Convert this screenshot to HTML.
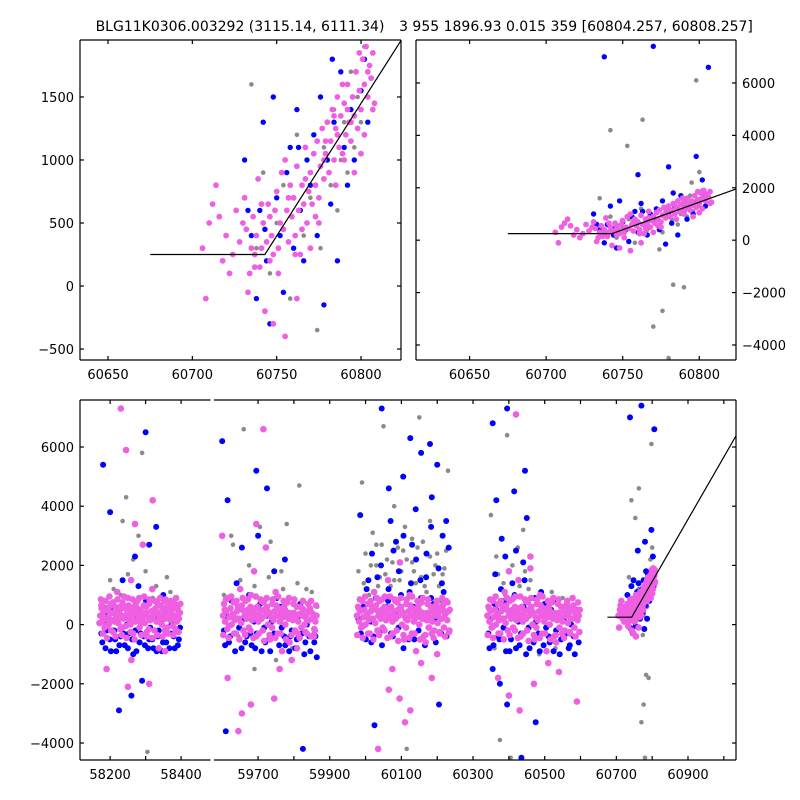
<!DOCTYPE html>
<html><head><meta charset="utf-8">
<style>
html,body{margin:0;padding:0;background:#fff;width:800px;height:800px;overflow:hidden;}
svg{display:block;}
text{font-family:"DejaVu Sans","Liberation Sans",sans-serif;font-size:13px;fill:#000;}
.ttl{font-size:14px;}
</style></head>
<body>
<svg id="chart" width="800" height="800" viewBox="0 0 800 800">
<text class="ttl" x="240" y="31" text-anchor="middle">BLG11K0306.003292 (3115.14, 6111.34)</text>
<text class="ttl" x="576" y="31" text-anchor="middle">3 955 1896.93 0.015 359 [60804.257, 60808.257]</text>
</svg>
<script>
// ---- data: model line ----
const modelT = [60675, 60743, 61040];
const modelV = [250, 250, 6500];
// ---- data: zoomed final season (shared by top panels and last bottom season) ----
const zoomPink = [[60706,300],[60708,-100],[60710,500],[60712,650],[60714,800],[60716,550],[60718,200],[60720,400],[60722,100],[60724,250],[60726,600],[60728,350],[60730,500],[60731,700],[60733,-50],[60734,100],[60735,300],[60736,550],[60737,250],[60738,400],[60739,850],[60740,150],[60741,300],[60742,500],[60743,-200],[60744,350],[60745,650],[60746,200],[60747,400],[60748,250],[60749,600],[60750,750],[60751,300],[60752,500],[60753,900],[60754,450],[60755,-400],[60756,600],[60757,350],[60758,800],[60759,550],[60760,700],[60761,400],[60762,950],[60763,600],[60764,250],[60765,800],[60766,650],[60767,1100],[60768,500],[60769,750],[60770,900],[60771,650],[60772,1050],[60773,800],[60774,1150],[60775,700],[60776,950],[60777,1250],[60778,850],[60779,1050],[60780,1300],[60781,900],[60782,1150],[60783,1400],[60784,1000],[60785,1250],[60786,1500],[60787,1100],[60788,1350],[60789,1050],[60790,1450],[60791,1200],[60792,1600],[60793,1300],[60794,1150],[60795,1500],[60796,1350],[60797,1700],[60798,1250],[60799,1550],[60800,1400],[60801,1800],[60802,1600],[60803,1900],[60804,1500],[60805,1750],[60806,1650],[60807,1850],[60808,1450],[60755,1000],[60762,-100],[60770,300],[60748,-300],[60790,1000],[60796,900],[60802,1200],[60785,800],[60775,500],[60765,450],[60732,450],[60737,150],[60741,650],[60746,550],[60751,100],[60757,700],[60761,250],[60767,850],[60773,550],[60779,1150],[60784,1350],[60789,1600],[60794,1300],[60799,1850],[60804,1700],[60807,1400],[60800,1050],[60792,1400],[60786,1200],[60778,1000]];
const zoomBlue = [[60731,1000],[60733,600],[60735,400],[60738,-100],[60740,600],[60742,1300],[60744,200],[60746,-300],[60748,1500],[60750,700],[60752,400],[60754,-50],[60756,900],[60758,1100],[60760,300],[60762,1400],[60764,600],[60766,200],[60768,1000],[60770,800],[60772,1200],[60774,400],[60776,1500],[60778,-150],[60780,1000],[60782,650],[60784,1300],[60786,200],[60788,1700],[60790,1100],[60792,800],[60794,1400],[60796,1000],[60798,1250],[60800,1550],[60802,1800],[60804,1300],[60806,1650],[60783,1800],[60763,1100],[60743,450],[60738,7000],[60770,7400],[60806,6600],[60798,3200],[60780,2800],[60760,2500],[60802,2300]];
const zoomGray = [[60735,1600],[60738,300],[60742,900],[60746,100],[60750,500],[60754,800],[60758,-100],[60762,1200],[60766,400],[60770,700],[60774,-350],[60778,1100],[60782,800],[60784,1400],[60786,600],[60790,1300],[60792,900],[60794,1700],[60796,1100],[60798,1500],[60800,1300],[60802,1900],[60804,1700],[60788,1000],[60776,300],[60742,4200],[60753,3600],[60763,4600],[60783,-1700],[60790,-1800],[60780,-4500],[60776,-2700],[60798,6100],[60770,-3300],[60800,2600],[60795,2200]];
// ---- data: earlier seasons (bottom panel) ----
const basePink = [
[58172,300],[58175,650],[58178,100],[58181,450],[58184,-100],[58187,800],[58190,200],[58193,500],[58196,0],[58199,350],[58202,700],[58205,150],[58208,-250],[58211,400],[58214,600],[58217,250],[58220,1100],[58223,50],[58226,450],[58229,-150],[58232,300],[58235,750],[58238,200],[58241,550],[58244,-50],[58247,350],[58250,900],[58253,150],[58256,450],[58259,1500],[58262,250],[58265,-300],[58268,600],[58271,100],[58274,400],[58277,800],[58280,200],[58283,-100],[58286,500],[58289,300],[58292,2700],[58295,650],[58298,50],[58301,400],[58304,-400],[58307,250],[58310,700],[58313,150],[58316,450],[58319,1200],[58322,300],[58325,-200],[58328,550],[58331,100],[58334,400],[58337,-800],[58340,250],[58343,650],[58346,0],[58349,350],[58352,800],[58355,200],[58358,500],[58361,-100],[58364,300],[58367,600],[58370,150],[58373,450],[58376,-50],[58379,250],[58382,700],[58385,300],[58388,100],[58391,500],[58394,200],[58397,400],
[58176,550],[58183,250],[58189,-50],[58197,600],[58204,400],[58212,100],[58219,550],[58227,250],[58234,-100],[58242,300],[58249,600],[58257,0],[58264,450],[58272,700],[58279,350],[58287,50],[58294,250],[58302,600],[58309,-150],[58317,200],[58324,500],[58332,750],[58339,100],[58347,550],[58354,-200],[58362,650],[58369,400],[58377,550],[58384,-150],[58392,650],
[58230,7300],[58245,5900],[58270,3400],[58320,4200],[58250,-2100],[58310,-2000],[58190,-1500],[58260,-1200],[58355,-900],
[59602,300],[59605,700],[59608,100],[59611,450],[59614,-150],[59617,900],[59620,250],[59623,550],[59626,0],[59629,350],[59632,750],[59635,150],[59638,-300],[59641,450],[59644,600],[59647,200],[59650,1200],[59653,50],[59656,500],[59659,-200],[59662,300],[59665,800],[59668,200],[59671,500],[59674,-100],[59677,350],[59680,1000],[59683,150],[59686,400],[59689,1800],[59692,250],[59695,-400],[59698,600],[59701,100],[59704,450],[59707,850],[59710,200],[59713,-200],[59716,500],[59719,300],[59722,2600],[59725,600],[59728,0],[59731,400],[59734,-500],[59737,250],[59740,700],[59743,150],[59746,450],[59749,1100],[59752,300],[59755,-300],[59758,550],[59761,100],[59764,400],[59767,-900],[59770,250],[59773,600],[59776,0],[59779,350],[59782,750],[59785,200],[59788,-600],[59791,300],[59794,-1200],[59797,150],[59800,400],[59803,-200],[59806,250],[59809,-800],[59812,100],[59815,350],[59818,600],[59821,-100],[59824,300],[59827,500],[59830,0],[59833,250],[59836,-300],[59839,400],[59842,150],[59845,550],[59848,-400],[59851,200],[59854,350],[59857,-150],[59860,100],[59863,300],
[59607,500],[59619,-50],[59631,300],[59643,200],[59655,650],[59667,450],[59679,-200],[59691,550],[59703,350],[59715,750],[59727,450],[59739,-100],[59751,650],[59763,200],[59775,500],[59787,400],[59799,700],[59811,-300],[59823,550],[59835,200],[59847,450],[59859,-200],
[59615,-1800],[59655,-3000],[59715,6600],[59745,-2500],[59695,3400],[59645,-3600],[59680,-2700],[59600,3000],[59760,-1500],
[59976,300],[59979,600],[59982,100],[59985,450],[59988,-100],[59991,800],[59994,250],[59997,500],[60000,0],[60003,350],[60006,700],[60009,150],[60012,-300],[60015,450],[60018,600],[60021,200],[60024,1100],[60027,50],[60030,500],[60033,-200],[60036,300],[60039,800],[60042,200],[60045,500],[60048,-100],[60051,350],[60054,950],[60057,150],[60060,400],[60063,1500],[60066,250],[60069,-400],[60072,600],[60075,100],[60078,450],[60081,850],[60084,200],[60087,-200],[60090,500],[60093,300],[60096,2100],[60099,600],[60102,0],[60105,400],[60108,-500],[60111,250],[60114,700],[60117,150],[60120,450],[60123,1000],[60126,300],[60129,-300],[60132,550],[60135,100],[60138,400],[60141,-900],[60144,250],[60147,600],[60150,0],[60153,350],[60156,750],[60159,200],[60162,-400],[60165,300],[60168,-600],[60171,150],[60174,400],[60177,-100],[60180,250],[60183,600],[60186,100],[60189,450],[60192,-200],[60195,300],[60198,700],[60201,50],[60204,400],[60207,-300],[60210,550],[60213,200],[60216,650],[60219,-100],[60222,350],[60225,800],[60228,150],[60231,450],[60234,-200],
[59981,550],[59993,-50],[60005,300],[60017,200],[60029,650],[60041,450],[60053,-200],[60065,550],[60077,350],[60089,750],[60101,450],[60113,-100],[60125,650],[60137,200],[60149,500],[60161,400],[60173,700],[60185,-300],[60197,550],[60209,200],[60221,450],[60233,-250],
[60065,-2200],[60095,-2500],[60125,-2900],[60185,-1800],[60035,-4200],[60075,-1500],[60155,-1300],[60110,-3300],[60200,-1000],
[60340,300],[60343,600],[60346,100],[60349,450],[60352,-100],[60355,800],[60358,250],[60361,500],[60364,0],[60367,350],[60370,700],[60373,150],[60376,-300],[60379,450],[60382,600],[60385,200],[60388,1100],[60391,50],[60394,500],[60397,-200],[60400,300],[60403,800],[60406,200],[60409,500],[60412,-100],[60415,350],[60418,950],[60421,150],[60424,400],[60427,1500],[60430,250],[60433,-400],[60436,600],[60439,100],[60442,450],[60445,850],[60448,200],[60451,-200],[60454,500],[60457,300],[60460,1900],[60463,600],[60466,0],[60469,400],[60472,-500],[60475,250],[60478,700],[60481,150],[60484,450],[60487,1000],[60490,300],[60493,-300],[60496,550],[60499,100],[60502,400],[60505,-900],[60508,250],[60511,600],[60514,0],[60517,350],[60520,750],[60523,200],[60526,-400],[60529,300],[60532,-600],[60535,150],[60538,400],[60541,-100],[60544,250],[60547,600],[60550,100],[60553,450],[60556,-200],[60559,300],[60562,700],[60565,50],[60568,400],[60571,-300],[60574,550],[60577,200],[60580,650],[60583,-100],[60586,350],[60589,500],[60592,150],[60595,300],
[60345,550],[60357,-50],[60369,300],[60381,200],[60393,650],[60405,450],[60417,-200],[60429,550],[60441,350],[60453,750],[60465,450],[60477,-100],[60489,650],[60501,200],[60513,500],[60525,400],[60537,700],[60549,-300],[60561,550],[60573,200],[60585,450],[60597,-250],
[60370,-1800],[60400,-2400],[60430,-2900],[60470,-2000],[60510,-1300],[60540,-1600],[60590,-2600],[60420,7100],[60460,2300],[60400,1800]];
const extraPink = [
[58170,50],[58174,850],[58179,-300],[58185,500],[58191,-450],[58198,950],[58203,-200],[58209,750],[58215,-400],[58221,850],[58228,600],[58233,-350],[58239,950],[58246,-450],[58252,650],[58258,-250],[58263,850],[58269,-500],[58276,550],[58282,900],[58288,-350],[58296,950],[58303,-250],[58311,850],[58318,-450],[58326,800],[58333,-350],[58341,900],[58348,-400],[58356,850],[58363,-300],[58371,800],[58378,-350],[58386,900],[58393,-250],[58398,700],
[59603,-350],[59610,850],[59618,-450],[59625,950],[59633,-300],[59640,800],[59648,-500],[59657,900],[59664,-350],[59672,850],[59679,600],[59687,-450],[59694,950],[59702,-300],[59709,800],[59717,-550],[59724,900],[59732,-350],[59741,850],[59748,-450],[59756,950],[59763,-300],[59771,800],[59778,-500],[59786,900],[59793,-350],[59801,850],[59808,600],[59816,-450],[59825,800],[59832,-250],[59840,700],[59848,800],[59856,-400],[59862,650],
[59977,-350],[59984,850],[59992,-450],[59999,950],[60007,-300],[60014,800],[60022,-500],[60031,900],[60038,-350],[60046,850],[60053,600],[60061,-450],[60068,950],[60076,-300],[60083,800],[60091,-550],[60098,900],[60106,-350],[60115,850],[60122,-450],[60130,950],[60137,-300],[60145,800],[60152,-500],[60160,900],[60167,-350],[60175,850],[60182,600],[60190,-450],[60199,800],[60206,-250],[60214,900],[60222,-400],[60229,750],[60235,500],
[60341,-350],[60348,850],[60356,-450],[60363,950],[60371,-300],[60378,800],[60386,-500],[60395,900],[60402,-350],[60410,850],[60417,600],[60425,-450],[60432,950],[60440,-300],[60447,800],[60455,-550],[60462,900],[60470,-350],[60479,850],[60486,-450],[60494,950],[60501,-300],[60509,800],[60516,-500],[60524,900],[60531,-350],[60539,850],[60546,600],[60554,-450],[60563,800],[60570,-250],[60578,900],[60586,-400],[60593,750],[60598,500]];
const baseBlue = [
[58175,-300],[58181,100],[58187,-800],[58193,300],[58199,-500],[58205,600],[58211,-200],[58217,-900],[58223,200],[58229,-400],[58235,1500],[58241,-700],[58247,0],[58253,-300],[58259,400],[58265,-1000],[58271,-200],[58277,200],[58283,-600],[58289,100],[58295,-400],[58301,800],[58307,-800],[58313,-100],[58319,-500],[58325,300],[58331,-900],[58337,-200],[58343,100],[58349,-600],[58355,400],[58361,-300],[58367,-800],[58373,0],[58379,-400],[58385,200],[58391,-700],[58397,-100],
[58180,5400],[58200,3800],[58270,2300],[58300,6500],[58330,3300],[58290,-1900],[58225,-2900],[58260,-2400],[58310,2700],
[58178,-600],[58190,-200],[58202,-900],[58214,-500],[58226,-700],[58238,-300],[58250,-800],[58262,-500],[58274,-900],[58286,-300],[58298,-700],[58310,-500],[58322,-800],[58334,-400],[58346,-900],[58358,-600],[58370,-300],[58382,-800],[58394,-500],[58220,1100],[58280,1300],[58350,1000],
[59605,-200],[59612,300],[59619,-600],[59626,800],[59633,-300],[59640,1400],[59647,-100],[59654,-800],[59661,200],[59668,-400],[59675,1000],[59682,-700],[59689,100],[59696,-300],[59703,500],[59710,-900],[59717,-100],[59724,300],[59731,-500],[59738,100],[59745,-300],[59752,900],[59759,-700],[59766,-100],[59773,-400],[59780,400],[59787,-900],[59794,-200],[59801,200],[59808,-500],[59815,300],[59822,-300],[59829,-1000],[59836,0],[59843,-400],[59850,200],[59857,-600],[59864,-1100],
[59600,6200],[59615,4200],[59695,5200],[59725,4600],[59610,-3600],[59825,-4200],[59655,2600],[59775,2200],[59700,3000],[59745,1800],
[59608,-700],[59622,-400],[59636,-900],[59650,600],[59664,-600],[59678,-300],[59692,-800],[59706,700],[59720,-600],[59734,-900],[59748,-400],[59762,600],[59776,-700],[59790,-400],[59804,-800],[59818,700],[59832,-600],[59846,-900],[59860,-400],
[59980,200],[59987,-300],[59994,600],[60001,-500],[60008,1500],[60015,100],[60022,-400],[60029,900],[60036,300],[60043,2000],[60050,-200],[60057,600],[60064,1200],[60071,-300],[60078,2500],[60085,400],[60092,-100],[60099,1000],[60106,3000],[60113,200],[60120,-500],[60127,1400],[60134,600],[60141,2200],[60148,-200],[60155,900],[60162,300],[60169,1600],[60176,-100],[60183,3300],[60190,700],[60197,200],[60204,1900],[60211,-300],[60218,1100],[60225,400],[60232,2600],[60016,-600],[60046,-700],[60076,-400],[60106,-800],[60136,-500],[60166,-700],[60196,-600],[60226,-400],
[60045,7300],[60125,6300],[60155,5800],[60105,5000],[60185,4300],[60225,3500],[60065,4600],[60025,-3400],[60205,-2700],[59985,3700],[60085,2800],[60180,6100],[60140,3900],[60200,5400],
[60003,1200],[60033,1600],[60063,800],[60093,1800],[60123,1100],[60153,1500],[60183,900],[60213,1400],[60018,2400],[60070,3500],[60130,2700],[60170,2400],[60215,3000],
[60343,-300],[60350,200],[60357,-700],[60364,500],[60371,-400],[60378,1200],[60385,-100],[60392,-900],[60399,300],[60406,-500],[60413,900],[60420,-800],[60427,100],[60434,-300],[60441,600],[60448,-1000],[60455,-100],[60462,400],[60469,-600],[60476,100],[60483,-300],[60490,1100],[60497,-700],[60504,-100],[60511,-400],[60518,500],[60525,-900],[60532,-200],[60539,300],[60546,-500],[60553,200],[60560,-300],[60567,-800],[60574,0],[60581,-400],[60588,300],[60595,-600],
[60355,6800],[60395,7300],[60365,4200],[60415,4500],[60445,5200],[60355,-1500],[60375,-2000],[60435,-4500],[60395,-2700],[60475,-3300],[60380,2900],[60420,2500],[60450,3600],[60400,1800],
[60346,-800],[60360,700],[60374,-500],[60388,800],[60402,-900],[60416,1000],[60430,-700],[60444,1500],[60458,-800],[60472,900],[60486,-900],[60500,700],[60514,-600],[60528,800],[60542,-1000],[60556,600],[60570,-700],[60584,-1000],[60362,1700],[60390,2300],[60410,1400],[60440,2100]];
const baseGray = [
[58185,600],[58200,1500],[58215,-200],[58230,1000],[58245,4300],[58255,300],[58265,2200],[58280,-600],[58290,5800],[58300,1800],[58305,-4300],[58320,900],[58340,200],[58360,1600],[58380,-300],[58395,700],[58235,3500],[58280,3000],[58210,1200],[58250,1700],[58330,1300],[58370,1100],
[59605,1000],[59625,3000],[59645,-400],[59660,6600],[59675,2000],[59690,-1500],[59705,3300],[59720,800],[59735,2800],[59750,-1200],[59765,1800],[59780,3400],[59795,-800],[59815,4700],[59835,1200],[59855,-300],[59865,600],[59630,2700],[59650,1500],[59690,1300],[59730,1600],[59770,1200],[59810,1400],[59850,1100],
[59980,1800],[59990,4800],[60000,2400],[60010,1000],[60020,3100],[60030,2700],[60040,1600],[60050,6700],[60060,2200],[60070,1300],[60080,4000],[60090,2600],[60100,1800],[60110,3300],[60120,900],[60130,2100],[60140,1400],[60150,7000],[60160,2800],[60170,1100],[60180,3500],[60190,1700],[60200,2400],[60210,800],[60220,1900],[60230,5200],[60030,2000],[60080,1500],[60130,2900],[60180,2300],[60005,1200],[60055,1700],[60105,2500],[60155,1600],[60205,1300],[60115,-4200],
[59995,1400],[60015,2000],[60035,1300],[60045,2700],[60075,2100],[60095,1500],[60115,2200],[60135,1800],[60145,2600],[60165,1300],[60195,2000],[60215,1700],[60225,2500],
[60350,3700],[60375,-3900],[60405,-4500],[60425,2600],[60445,1800],[60365,2300],[60485,-1000],[60385,1400],[60415,900],[60455,1200],[60500,700],[60530,-800],[60560,500],[60395,6400],[60440,3200],[60360,-800],[60370,1700],[60390,1000],[60410,2000],[60430,1300],[60460,1500],[60480,900],[60520,1100],[60550,900]];

// ---- layout (not data) ----
const NS = 'http://www.w3.org/2000/svg';
const svg = document.getElementById('chart');
function el(tag, attrs, parent){const e=document.createElementNS(NS,tag);for(const k in attrs)e.setAttribute(k,attrs[k]);(parent||svg).appendChild(e);return e;}
function lin(d0,d1,r0,r1){return v=>r0+(v-d0)*(r1-r0)/(d1-d0);}

const panels = [
 {id:'top-left', x0:80,x1:401,y0:40,y1:360, xd:[60633.4,60823.7], yd:[-587,1952], xt:[60650,60700,60750,60800], yt:[-500,0,500,1000,1500], ylab:'left', sets:'zoom'},
 {id:'top-right', x0:416,x1:736,y0:40,y1:360, xd:[60615,60824], yd:[-4573,7641], xt:[60650,60700,60750,60800], yt:[-4000,-2000,0,2000,4000,6000], ylab:'right', sets:'zoom'},
 {id:'bottom-left', x0:80,x1:210.5,y0:400,y1:760, xd:[58115,58483], yd:[-4574,7588], xt:[58200,58300,58400], xl:[58200,58400], yt:[-4000,-2000,0,2000,4000,6000], ylab:'left', sets:'all', noRight:true},
 {id:'bottom-right', x0:214,x1:736,y0:400,y1:760, xd:[59577,61034], yd:[-4574,7588], xt:[59700,59800,59900,60000,60100,60200,60300,60400,60500,60600,60700,60800,60900,61000], xl:[59700,59900,60100,60300,60500,60700,60900], yt:[-4000,-2000,0,2000,4000,6000], ylab:'none', sets:'all', noLeft:true}
];

panels.forEach((p,pi)=>{
  const g = el('g',{});
  
  
  const sx = lin(p.xd[0],p.xd[1],p.x0,p.x1), sy = lin(p.yd[0],p.yd[1],p.y1,p.y0);
  const cp = el('clipPath',{id:'clip'+pi},g);
  el('rect',{x:p.x0,y:p.y0,width:p.x1-p.x0,height:p.y1-p.y0},cp);
  const pg = el('g',{'clip-path':'url(#clip'+pi+')'},g);
  const z = p.sets==='zoom';
  const groups = [['gray',z?zoomGray:baseGray.concat(zoomGray),'#8a8a8a',2.3],
                  ['blue',z?zoomBlue:baseBlue.concat(zoomBlue),'#0000ff',z?2.7:3],
                  ['pink',z?zoomPink:basePink.concat(extraPink,zoomPink),'#ef5fe2',z?2.9:3.3]];
  groups.forEach(([nm,arr,col,r])=>{
    const sg = el('g',{fill:col},pg);
    
    
    arr.forEach(d=>{
      const c = el('circle',{cx:sx(d[0]).toFixed(1),cy:sy(d[1]).toFixed(1),r:r},sg);
      
      
    });
  });
  const pts = modelT.map((t,i)=>sx(t).toFixed(1)+','+sy(modelV[i]).toFixed(1)).join(' ');
  const ml = el('polyline',{points:pts,fill:'none',stroke:'#000','stroke-width':1.2},pg);
  
  
  const fr = el('g',{stroke:'#000','stroke-width':1.2,fill:'none'},g);
  el('line',{x1:p.x0,y1:p.y0,x2:p.x1,y2:p.y0},fr);
  el('line',{x1:p.x0,y1:p.y1,x2:p.x1,y2:p.y1},fr);
  if(!p.noLeft) el('line',{x1:p.x0,y1:p.y0,x2:p.x0,y2:p.y1},fr);
  if(!p.noRight) el('line',{x1:p.x1,y1:p.y0,x2:p.x1,y2:p.y1},fr);
  p.xt.forEach(t=>{
    const x=sx(t); if(x<p.x0||x>p.x1) return;
    el('line',{x1:x,y1:p.y1,x2:x,y2:p.y1-4},fr);
    el('line',{x1:x,y1:p.y0,x2:x,y2:p.y0+4},fr);
  });
  (p.xl||p.xt).forEach(t=>{
    const tx = el('text',{x:sx(t).toFixed(1),y:p.y1+19,'text-anchor':'middle'},g);
    tx.textContent = t;
    
    
  });
  p.yt.forEach(v=>{
    const y=sy(v);
    if(!p.noLeft) el('line',{x1:p.x0,y1:y,x2:p.x0+4,y2:y},fr);
    if(!p.noRight) el('line',{x1:p.x1,y1:y,x2:p.x1-4,y2:y},fr);
    if(p.ylab==='none') return;
    const left = p.ylab==='left';
    const tx = el('text',{x:left?p.x0-6:p.x1+6,y:(y+5).toFixed(1),'text-anchor':left?'end':'start'},g);
    tx.textContent = v<0?'\u2212'+(-v):v;
    
    
  });
});
</script>
</body></html>
